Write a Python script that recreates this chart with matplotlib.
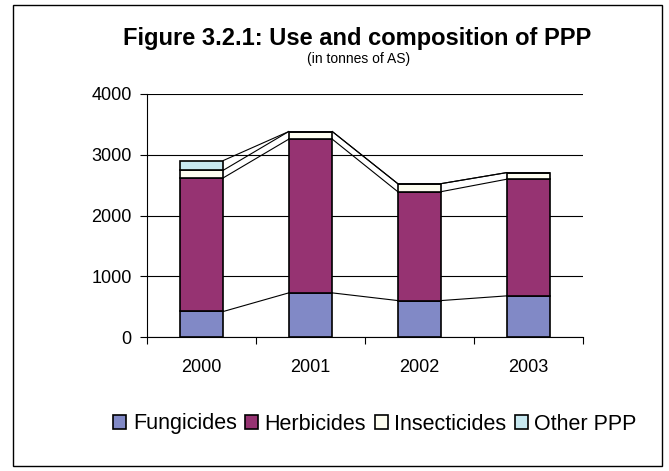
import matplotlib
matplotlib.use("Agg")
import matplotlib.pyplot as plt
import numpy as np
from matplotlib.patches import Rectangle

years = ["2000", "2001", "2002", "2003"]
fungicides = [420, 726, 600, 677]
herbicides = [2200, 2530, 1793, 1920]
insecticides = [125, 126, 132, 109]
other_ppp = [160, 0, 0, 0]
series_names = ["Fungicides", "Herbicides", "Insecticides", "Other PPP"]
colors = ["#8189C6", "#963372", "#FDFDF0", "#C8E9F1"]
yticks = [0, 1000, 2000, 3000, 4000]

fig = plt.figure(figsize=(6.69, 4.71), dpi=100)
plt.rcParams['font.family'] = ['Liberation Sans', 'DejaVu Sans']

W, H = 669, 471
ax = fig.add_axes([147 / W, 1 - 337 / H, (583 - 147) / W, (337 - 94) / H])

x = np.arange(len(years))
width = 0.4
data = [fungicides, herbicides, insecticides, other_ppp]
bottom = np.zeros(len(years))
tops = []
for vals, c, name in zip(data, colors, series_names):
    vals = np.array(vals, dtype=float)
    ax.bar(x, vals, width, bottom=bottom, color=c, edgecolor="black",
           linewidth=1.2, label=name, zorder=3)
    bottom = bottom + vals
    tops.append(bottom.copy())

# series lines
for t in tops:
    for i in range(len(years) - 1):
        ax.plot([x[i] + width / 2, x[i + 1] - width / 2], [t[i], t[i + 1]],
                color="black", linewidth=0.8, zorder=2)

ax.set_xlim(-0.5, len(years) - 0.5)
ax.set_ylim(0, 4000)
ax.set_yticks(yticks)
ax.set_yticklabels([str(v) for v in yticks], fontsize=13)
ax.yaxis.grid(True, color="black", linewidth=0.8, zorder=0)
ax.set_axisbelow(True)
ax.set_xticks(x)
ax.set_xticklabels(years, fontsize=13)
ax.set_xticks(np.arange(-0.5, len(years)), minor=True)
ax.tick_params(axis="x", which="major", length=0, pad=16)
ax.tick_params(axis="x", which="minor", length=5, width=0.8, direction="out")
ax.tick_params(axis="y", length=5, width=0.8, direction="out", pad=6)
for s in ["top", "right"]:
    ax.spines[s].set_visible(False)
ax.spines["left"].set_linewidth(0.8)
ax.spines["bottom"].set_linewidth(0.8)

fig.text(357 / W, 1 - 38 / H, "Figure 3.2.1: Use and composition of PPP",
         ha="center", va="center", fontsize=17, fontweight="bold")
fig.text(359 / W, 1 - 59 / H, "(in tonnes of AS)", ha="center", va="center",
         fontsize=10)

handles, labels = ax.get_legend_handles_labels()
leg = fig.legend(handles, labels, loc="center", bbox_to_anchor=(375 / W, 1 - 424 / H),
                 ncol=4, frameon=False, fontsize=15.5, handlelength=0.6,
                 handleheight=0.6, handletextpad=0.3, columnspacing=0.4)

border = Rectangle((13 / W, 1 - 466 / H), (662 - 13) / W, (466 - 5) / H,
                   transform=fig.transFigure, fill=False, edgecolor="black",
                   linewidth=1.0)
fig.patches.append(border)

fig.savefig("out.png", dpi=100, facecolor="white")
